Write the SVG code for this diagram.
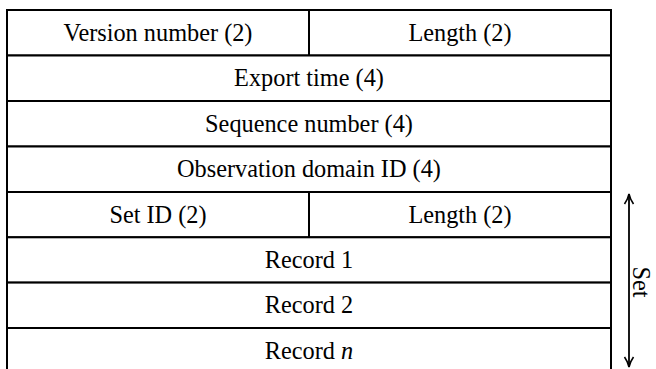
<svg xmlns="http://www.w3.org/2000/svg" width="656" height="369" viewBox="0 0 656 369">
<defs>
<style>
.cell{fill:#fff;stroke:#000;stroke-width:2}
.t{font-family:"Liberation Serif","Times New Roman",serif;font-size:24.3px;fill:#000;text-anchor:middle}
.conn{stroke:#000;stroke-width:1.8;fill:none}
</style>
<marker id="ah" viewBox="0 0 12 12" refX="11" refY="6" markerWidth="12" markerHeight="12" markerUnits="userSpaceOnUse" orient="auto-start-reverse">
<path d="M1,1.5 Q6,5 11,6 Q6,7 1,10.5" fill="none" stroke="#000" stroke-width="1.6"/>
</marker>
</defs>
<rect width="656" height="369" fill="#fff"/>
<g id="version"><rect class="cell" x="7" y="10" width="302" height="45.5"/><text class="t" x="158" y="40.7">Version number (2)</text></g>
<g id="length1"><rect class="cell" x="309" y="10" width="302" height="45.5"/><text class="t" x="460" y="40.7">Length (2)</text></g>
<g id="export"><rect class="cell" x="7" y="55.5" width="604" height="45.5"/><text class="t" x="309" y="86.2">Export time (4)</text></g>
<g id="sequence"><rect class="cell" x="7" y="101" width="604" height="45.5"/><text class="t" x="309" y="131.7">Sequence number (4)</text></g>
<g id="domain"><rect class="cell" x="7" y="146.5" width="604" height="45.5"/><text class="t" x="309" y="177.2">Observation domain ID (4)</text></g>
<g id="setid"><rect class="cell" x="7" y="192" width="302" height="45.3"/><text class="t" x="158" y="222.6">Set ID (2)</text></g>
<g id="length2"><rect class="cell" x="309" y="192" width="302" height="45.3"/><text class="t" x="460" y="222.6">Length (2)</text></g>
<g id="record1"><rect class="cell" x="7" y="237.3" width="604" height="45.3"/><text class="t" x="309" y="268">Record 1</text></g>
<g id="record2"><rect class="cell" x="7" y="282.6" width="604" height="45.4"/><text class="t" x="309" y="313.3">Record 2</text></g>
<g id="recordn"><rect class="cell" x="7" y="328" width="604" height="46"/><text class="t" x="309" y="358.7">Record <tspan font-style="italic">n</tspan></text></g>
<g id="connectors">
<line class="conn" x1="629" y1="194" x2="629" y2="367" marker-start="url(#ah)" marker-end="url(#ah)"/>
</g>
<g id="setlabel"><text class="t" transform="translate(641,282) rotate(90)" y="0" dy="0.33em">Set</text></g>
</svg>
